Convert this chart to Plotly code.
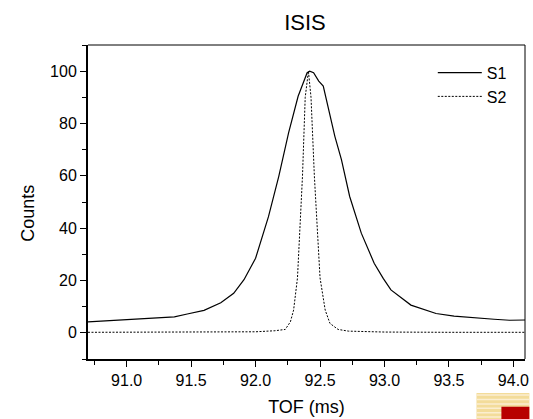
import plotly.graph_objects as go

# ---- data ----
s1_tof = [90.70, 90.96, 91.215, 91.37, 91.47, 91.60, 91.73, 91.83, 91.91, 92.00,
          92.10, 92.18, 92.256, 92.33, 92.40, 92.42, 92.45, 92.49, 92.525, 92.56,
          92.615, 92.666, 92.73, 92.82, 92.92, 92.99, 93.05, 93.205, 93.33, 93.40,
          93.54, 93.72, 93.85, 93.97, 94.09]
s1_counts = [4.2, 5.0, 5.5, 6.1, 7.2, 8.6, 11.5, 15.1, 20.3, 28.5,
             44.4, 59.8, 76.4, 90.4, 99.4, 100.0, 99.4, 96.2, 94.3, 86.6,
             75.1, 66.2, 52.1, 38.1, 26.6, 20.8, 16.4, 10.6, 8.7, 7.4,
             6.4, 5.6, 5.2, 4.8, 4.9]

s2_tof = [90.70, 91.00, 91.50, 92.00, 92.15, 92.23, 92.27, 92.295, 92.325, 92.364,
          92.385, 92.41, 92.43, 92.456, 92.50, 92.54, 92.577, 92.64, 92.72, 93.00,
          93.50, 94.09]
s2_counts = [0.2, 0.2, 0.25, 0.4, 0.8, 1.3, 4.2, 8.7, 21.0, 60.0,
             90.0, 100.0, 90.0, 60.0, 21.0, 8.7, 3.6, 1.3, 0.65, 0.3,
             0.2, 0.2]

series_names = ["S1", "S2"]
x_ticks = [91.0, 91.5, 92.0, 92.5, 93.0, 93.5, 94.0]
x_tick_labels = ["91.0", "91.5", "92.0", "92.5", "93.0", "93.5", "94.0"]
y_ticks = [0, 20, 40, 60, 80, 100]

FONT = "Liberation Sans, Arial, sans-serif"

fig = go.Figure()
fig.add_trace(go.Scatter(x=s1_tof, y=s1_counts, mode="lines", name=series_names[0],
                         line=dict(color="black", width=1.2)))
fig.add_trace(go.Scatter(x=s2_tof, y=s2_counts, mode="lines", name=series_names[1],
                         line=dict(color="black", width=1, dash="2px,1.5px")))

fig.update_layout(
    width=533, height=419,
    margin=dict(l=88, r=4, t=45, b=60),
    paper_bgcolor="white", plot_bgcolor="white",
    font=dict(family=FONT, color="black", size=16),
    title=dict(text="ISIS", x=305 / 533, xanchor="center", y=1 - 22 / 419, yanchor="middle",
               font=dict(size=22, family=FONT, color="black")),
    showlegend=True,
    legend=dict(x=0.789, y=0.966, xanchor="left", yanchor="top",
                bgcolor="rgba(0,0,0,0)", font=dict(size=16, family=FONT),
                itemwidth=44, tracegroupgap=0),
    annotations=[dict(text="Counts", textangle=-90, xref="paper", yref="paper",
                      x=-0.138, y=0.465, xanchor="center", yanchor="middle",
                      showarrow=False, font=dict(size=18, family=FONT, color="black"))],
)

fig.update_xaxes(
    range=[90.70, 94.09], showgrid=False, zeroline=False,
    showline=True, linecolor="black", linewidth=2, mirror=False,
    tickmode="array", tickvals=x_ticks, ticktext=x_tick_labels,
    ticks="outside", ticklen=6, tickwidth=1, tickcolor="black",
    tickfont=dict(size=16, family=FONT),
    minor=dict(dtick=0.25, tick0=90.75, ticks="outside", ticklen=4, tickcolor="black", tickwidth=1),
    title=dict(text="TOF (ms)", font=dict(size=18, family=FONT), standoff=12),
)
fig.update_yaxes(
    range=[-10, 110], showgrid=False, zeroline=False,
    showline=True, linecolor="black", linewidth=2, mirror=False,
    tickmode="array", tickvals=y_ticks,
    ticks="outside", ticklen=6, tickwidth=1, tickcolor="black",
    tickfont=dict(size=16, family=FONT),
    minor=dict(dtick=10, tick0=-10, ticks="outside", ticklen=4, tickcolor="black", tickwidth=1),
)

# thin top and right frame lines
fig.add_shape(type="line", xref="paper", yref="paper", x0=0, x1=1, y0=1, y1=1,
              line=dict(color="black", width=1))
fig.add_shape(type="line", xref="paper", yref="paper", x0=1, x1=1, y0=0, y1=1,
              line=dict(color="black", width=1))

# small logo in the bottom-right corner
fig.add_shape(type="rect", xref="paper", yref="paper", x0=0.889, x1=1.01, y0=-0.108, y1=-0.20,
              line=dict(width=0), fillcolor="#f3dc9a", layer="above")
for k in range(6):
    yy = -0.115 - k * 0.014
    fig.add_shape(type="line", xref="paper", yref="paper", x0=0.889, x1=1.01, y0=yy, y1=yy,
                  line=dict(color="#fbeed0", width=1.5), layer="above")
fig.add_shape(type="rect", xref="paper", yref="paper", x0=0.946, x1=1.01, y0=-0.152, y1=-0.20,
              line=dict(width=0), fillcolor="#b80000", layer="above")

fig.write_html("out.html", config={"displayModeBar": False},
               post_script="document.body.style.margin='0';document.body.style.overflow='hidden';")
